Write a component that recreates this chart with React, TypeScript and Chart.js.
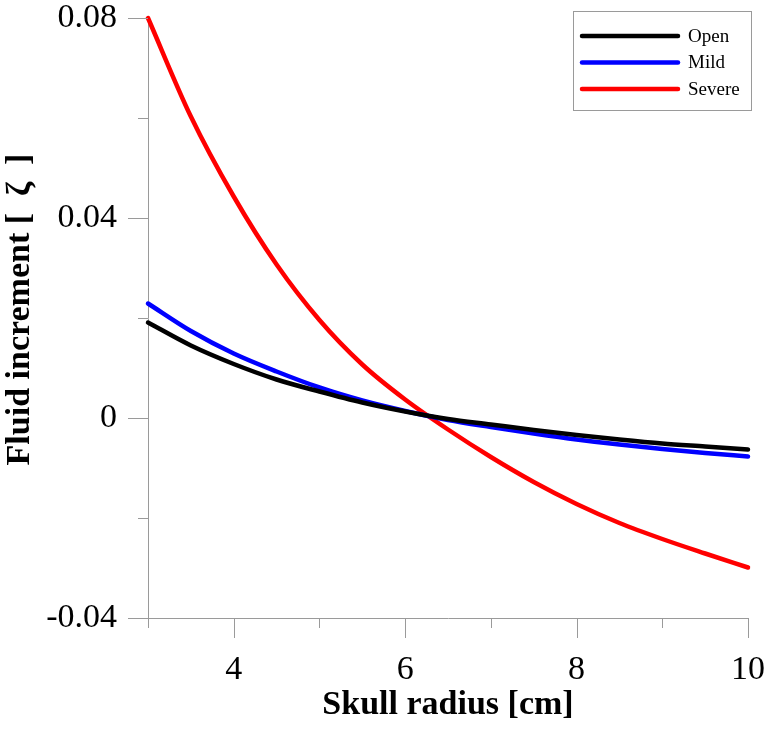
import React, { useEffect, useRef } from "react";
import { Chart, registerables } from "chart.js";

Chart.register(...registerables);

// Skull radius [cm]
const xValues = [3, 3.5, 4, 4.5, 5, 5.5, 6, 6.5, 7, 7.5, 8, 8.5, 9, 9.5, 10];
// Fluid increment values
const openValues = [0.0191, 0.0145, 0.0108, 0.0077, 0.0053, 0.0031, 0.0013, -0.0002, -0.0013, -0.0024, -0.0034, -0.0043, -0.0051, -0.0057, -0.0063];
const mildValues = [0.0229, 0.0174, 0.0129, 0.0093, 0.0061, 0.0035, 0.0014, -0.0004, -0.0018, -0.0031, -0.0043, -0.0053, -0.0062, -0.007, -0.0077];
const severeValues = [0.08, 0.0603, 0.0443, 0.0307, 0.0196, 0.0107, 0.0037, -0.0023, -0.0078, -0.0128, -0.0172, -0.021, -0.0242, -0.0271, -0.0299];

const seriesLabels = ["Open", "Mild", "Severe"];
const seriesColors = ["#000000", "#0000ff", "#ff0000"];

const xTickValues = [4, 6, 8, 10];
const xAllTickValues = [3, 4, 5, 6, 7, 8, 9, 10];
const yTickValues = [-0.04, 0, 0.04, 0.08];
const yAllTickValues = [-0.04, -0.02, 0, 0.02, 0.04, 0.06, 0.08];

const xTitle = "Skull radius [cm]";
const yTitle = "  Fluid increment [  ζ  ]";

const SERIF = "'Liberation Serif', 'Times New Roman', serif";
const AXIS_GRAY = "#9a9a9a";

const tickMarks = {
  id: "tickMarks",
  afterDraw(chart: any) {
    const { ctx, chartArea, scales } = chart;
    const x = scales.x;
    const y = scales.y;
    ctx.save();
    ctx.strokeStyle = AXIS_GRAY;
    ctx.lineWidth = 1;
    for (const v of xAllTickValues) {
      const px = Math.round(x.getPixelForValue(v)) + 0.5;
      const len = xTickValues.includes(v) ? 20 : 10;
      ctx.beginPath();
      ctx.moveTo(px, chartArea.bottom);
      ctx.lineTo(px, chartArea.bottom + len);
      ctx.stroke();
    }
    for (const v of yAllTickValues) {
      const py = Math.round(y.getPixelForValue(v)) + 0.5;
      const len = yTickValues.some((t) => Math.abs(t - v) < 1e-9) ? 20 : 10;
      ctx.beginPath();
      ctx.moveTo(chartArea.left, py);
      ctx.lineTo(chartArea.left - len, py);
      ctx.stroke();
    }
    ctx.restore();
  },
};

const legendBox = {
  id: "legendBox",
  afterDraw(chart: any) {
    const { ctx, chartArea } = chart;
    const left = Math.round(chartArea.right - 175);
    const top = Math.round(chartArea.top - 7);
    const w = 178;
    const h = 99;
    ctx.save();
    ctx.fillStyle = "#ffffff";
    ctx.fillRect(left, top, w, h);
    ctx.strokeStyle = AXIS_GRAY;
    ctx.lineWidth = 1;
    ctx.strokeRect(left + 0.5, top + 0.5, w, h);
    chart.data.datasets.forEach((ds: any, i: number) => {
      const yy = top + 25 + i * 26.5;
      ctx.strokeStyle = ds.borderColor;
      ctx.lineWidth = 4.5;
      ctx.lineCap = "round";
      ctx.beginPath();
      ctx.moveTo(left + 9, yy);
      ctx.lineTo(left + 105, yy);
      ctx.stroke();
      ctx.fillStyle = "#000000";
      ctx.font = `19px ${SERIF}`;
      ctx.textBaseline = "middle";
      ctx.textAlign = "left";
      ctx.fillText(ds.label, left + 115, yy + 1);
    });
    ctx.restore();
  },
};

function fmtY(v: number) {
  const r = Number(v.toFixed(2));
  return r === 0 ? "0" : String(r);
}

export default function App() {
  const ref = useRef<HTMLCanvasElement | null>(null);

  useEffect(() => {
    if (!ref.current) return;
    const series = [openValues, mildValues, severeValues];
    const chart = new Chart(ref.current, {
      type: "line",
      data: {
        datasets: series.map((vals, i) => ({
          label: seriesLabels[i],
          data: xValues.map((x, j) => ({ x, y: vals[j] })),
          borderColor: seriesColors[i],
          backgroundColor: seriesColors[i],
          borderWidth: 4.5,
          pointRadius: 0,
          cubicInterpolationMode: "monotone" as const,
          borderCapStyle: "round" as const,
          clip: false as any,
        })),
      },
      options: {
        animation: false,
        responsive: false,
        devicePixelRatio: 1,
        layout: { padding: { left: 0, top: 18, right: 24, bottom: 0 } },
        plugins: {
          legend: { display: false },
          tooltip: { enabled: false },
        },
        scales: {
          x: {
            type: "linear",
            min: 3,
            max: 10,
            afterBuildTicks: (scale: any) => {
              scale.ticks = xTickValues.map((v) => ({ value: v }));
            },
            afterFit: (scale: any) => {
              scale.height = 117;
              scale.paddingLeft = 0;
              scale.paddingRight = 0;
            },
            grid: { display: true, drawOnChartArea: false, drawTicks: false, color: "rgba(0,0,0,0)" },
            border: { display: true, color: AXIS_GRAY, width: 1 },
            ticks: {
              padding: 32,
              maxRotation: 0,
              autoSkip: false,
              color: "#000000",
              font: { family: SERIF, size: 34 },
              callback: (v: any) => String(v),
            },
            title: {
              display: true,
              text: xTitle,
              color: "#000000",
              font: { family: SERIF, size: 34, weight: "bold" },
              padding: { top: 0, bottom: 9 },
            },
          },
          y: {
            type: "linear",
            min: -0.04,
            max: 0.08,
            afterBuildTicks: (scale: any) => {
              scale.ticks = yTickValues.map((v) => ({ value: v }));
            },
            afterFit: (scale: any) => {
              scale.width = 148;
              scale.paddingTop = 0;
              scale.paddingBottom = 0;
            },
            grid: { display: true, drawOnChartArea: false, drawTicks: false, color: "rgba(0,0,0,0)" },
            border: { display: true, color: AXIS_GRAY, width: 1 },
            ticks: {
              padding: 31,
              autoSkip: false,
              color: "#000000",
              font: { family: SERIF, size: 34 },
              callback: (v: any) => fmtY(Number(v)),
            },
            title: {
              display: true,
              text: yTitle,
              color: "#000000",
              font: { family: SERIF, size: 34, weight: "bold" },
              padding: { top: 0, bottom: 0 },
            },
          },
        },
      },
      plugins: [tickMarks, legendBox],
    } as any);
    return () => chart.destroy();
  }, []);

  return (
    <div style={{ position: "absolute", left: 0, top: 0, width: 772, height: 735, background: "#ffffff" }}>
      <canvas ref={ref} width={772} height={735} style={{ display: "block" }} />
    </div>
  );
}
